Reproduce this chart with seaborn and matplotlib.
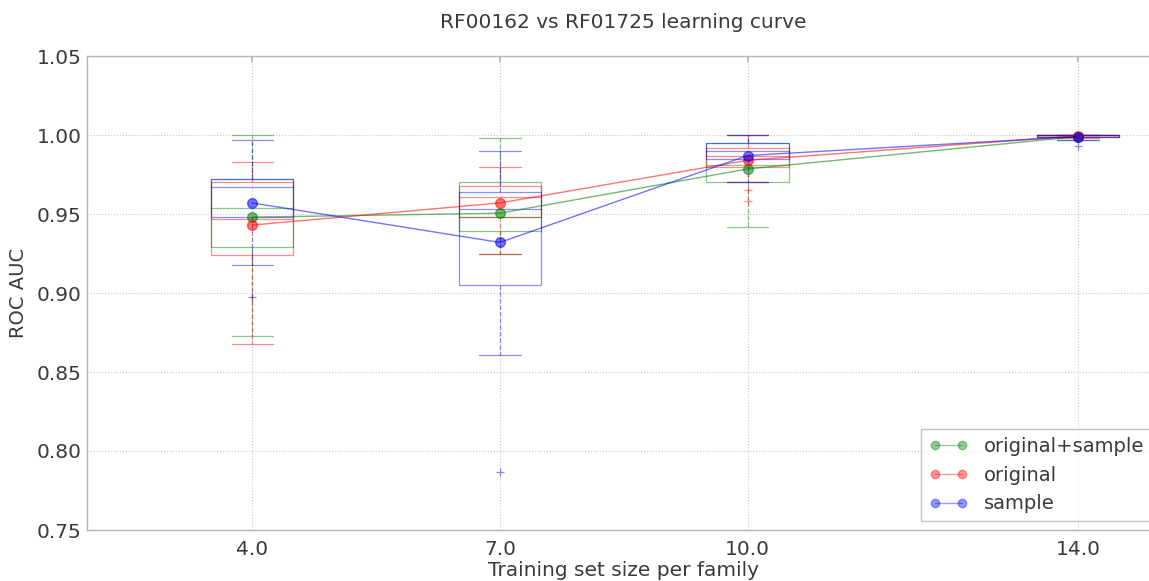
import numpy as np
import pandas as pd
import matplotlib
matplotlib.use("Agg")
import matplotlib.pyplot as plt
import seaborn as sns
from matplotlib.lines import Line2D

# ---------------- data ----------------
sizes = [4.0, 7.0, 10.0, 14.0]
size_labels = ["4.0", "7.0", "10.0", "14.0"]
series_names = ["original+sample", "original", "sample"]
series_colors = ["#008000", "#ff0000", "#0000ff"]

# mean ROC AUC (line markers)
mean_orig_sample = [0.948, 0.9505, 0.9785, 0.999]
mean_original = [0.943, 0.957, 0.984, 0.9995]
mean_sample = [0.957, 0.932, 0.987, 0.999]

# box statistics per series (one value per training size)
whislo_orig_sample = [0.873, 0.925, 0.942, 0.997]
q1_orig_sample = [0.929, 0.939, 0.970, 0.999]
med_orig_sample = [0.954, 0.948, 0.981, 1.000]
q3_orig_sample = [0.972, 0.970, 0.995, 1.000]
whishi_orig_sample = [1.000, 0.998, 1.000, 1.000]
fliers_orig_sample = [[], [], [], []]

whislo_original = [0.868, 0.925, 0.970, 0.998]
q1_original = [0.924, 0.948, 0.980, 0.999]
med_original = [0.947, 0.961, 0.987, 1.000]
q3_original = [0.970, 0.968, 0.992, 1.000]
whishi_original = [0.983, 0.980, 1.000, 1.000]
fliers_original = [[], [], [0.965, 0.958], []]

whislo_sample = [0.918, 0.861, 0.970, 0.997]
q1_sample = [0.948, 0.905, 0.985, 0.999]
med_sample = [0.967, 0.953, 0.990, 1.000]
q3_sample = [0.972, 0.964, 0.995, 1.000]
whishi_sample = [0.997, 0.990, 1.000, 1.000]
fliers_sample = [[0.8975], [0.787], [], [0.993]]

# ---------------- style ----------------
sns.set_theme(style="white")
plt.rcParams["font.family"] = ["DejaVu Sans"]
text_color = "#3a3a3a"
spine_color = "#b5b5b5"

fig = plt.figure(figsize=(11.49, 5.81), dpi=100)
ax = fig.add_axes([87 / 1149, 51 / 581, 1073.5 / 1149, 474 / 581])

box_sets = [
    (whislo_orig_sample, q1_orig_sample, med_orig_sample, q3_orig_sample, whishi_orig_sample, fliers_orig_sample),
    (whislo_original, q1_original, med_original, q3_original, whishi_original, fliers_original),
    (whislo_sample, q1_sample, med_sample, q3_sample, whishi_sample, fliers_sample),
]

for (wl, q1, md, q3, wh, fl), col in zip(box_sets, series_colors):
    stats = [dict(whislo=wl[i], q1=q1[i], med=md[i], q3=q3[i], whishi=wh[i], fliers=fl[i])
             for i in range(len(sizes))]
    a = 0.45
    ax.bxp(stats, positions=sizes, widths=1.0, manage_ticks=False,
           boxprops=dict(color=col, alpha=a, lw=0.9),
           whiskerprops=dict(color=col, alpha=a, lw=0.9, ls="--"),
           capprops=dict(color=col, alpha=a, lw=0.9),
           medianprops=dict(color=col, alpha=a, lw=0.9),
           flierprops=dict(marker="+", markeredgecolor=col, alpha=a, markersize=6, mew=0.9))

df = pd.DataFrame({
    "size": sizes * 3,
    "auc": mean_orig_sample + mean_original + mean_sample,
    "series": [s for s in series_names for _ in sizes],
})
sns.lineplot(data=df, x="size", y="auc", hue="series", hue_order=series_names,
             palette=dict(zip(series_names, series_colors)), marker="o", markersize=7,
             linewidth=1.0, alpha=0.55, estimator=None, legend=False, ax=ax, zorder=5)
for ln in ax.lines[-3:]:
    ln.set_markeredgecolor(ln.get_color())
    ln.set_markeredgewidth(1.0)

ax.set_xlim(2, 15)
ax.set_ylim(0.75, 1.05)
ax.set_xticks(sizes)
ax.set_xticklabels(size_labels)
yt = [0.75, 0.80, 0.85, 0.90, 0.95, 1.00, 1.05]
ax.set_yticks(yt)
ax.set_yticklabels([f"{v:.2f}" for v in yt])

ax.grid(True, ls=":", color="#c8c8c8", lw=0.8)
ax.set_axisbelow(True)
for sp in ax.spines.values():
    sp.set_color(spine_color)
    sp.set_linewidth(1.0)
ax.tick_params(direction="in", length=4, color=spine_color, labelcolor=text_color,
               labelsize=14.5, top=True, right=True)
ax.tick_params(axis="y", pad=4)
ax.tick_params(axis="x", pad=7)

ax.set_xlabel("Training set size per family", fontsize=14.5, color=text_color, labelpad=2)
ax.set_ylabel("ROC AUC", fontsize=14, color=text_color, labelpad=6)
ax.set_title("RF00162 vs RF01725 learning curve", fontsize=14.5, color=text_color, pad=20)

handles = [Line2D([0], [0], color=c, alpha=0.4, marker="o", markersize=6, lw=1.0,
                  markeredgecolor=c) for c in series_colors]
leg = ax.legend(handles, series_names, loc="lower right", numpoints=2, fontsize=14,
                frameon=True, fancybox=False, handlelength=2.0, handletextpad=0.8,
                borderpad=0.4, labelspacing=0.5, borderaxespad=0.45)
leg.get_frame().set_edgecolor(spine_color)
leg.get_frame().set_linewidth(1.0)
for t in leg.get_texts():
    t.set_color(text_color)

fig.savefig("out.png", dpi=100)
